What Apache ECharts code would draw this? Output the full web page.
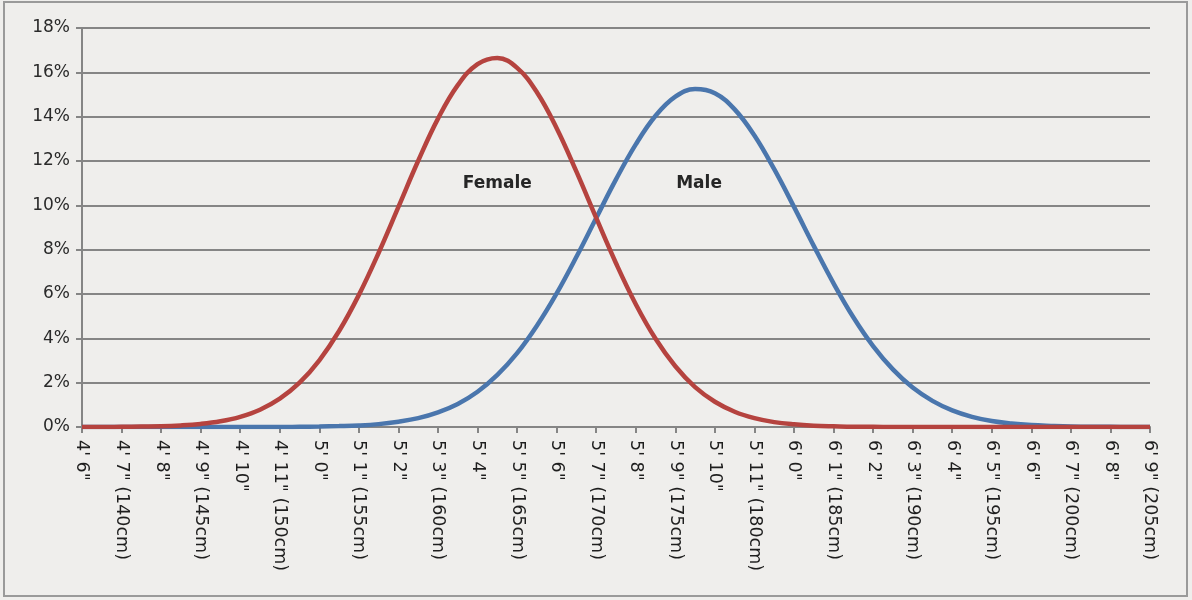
<!DOCTYPE html>
<html>
<head>
<meta charset="utf-8">
<script src="https://cdn.jsdelivr.net/npm/echarts@6/dist/echarts.min.js"></script>
<style>
  html, body { margin: 0; padding: 0; background: #efeeec; }
  #main { width: 1192px; height: 600px; }
</style>
</head>
<body>
<div id="main"></div>
<script>
// height in inches, every half inch from 4'6" to 6'9"
var heights = [54, 54.5, 55, 55.5, 56, 56.5, 57, 57.5, 58, 58.5, 59, 59.5, 60, 60.5, 61, 61.5,
    62, 62.5, 63, 63.5, 64, 64.5, 65, 65.5, 66, 66.5, 67, 67.5, 68, 68.5, 69, 69.5, 70, 70.5,
    71, 71.5, 72, 72.5, 73, 73.5, 74, 74.5, 75, 75.5, 76, 76.5, 77, 77.5, 78, 78.5, 79, 79.5,
    80, 80.5, 81];

// share of population (%)
var female = [0.00, 0.00, 0.01, 0.02, 0.03, 0.07, 0.14, 0.26, 0.46, 0.78, 1.28, 2.00, 3.01, 4.33,
    5.96, 7.86, 9.93, 12.01, 13.91, 15.42, 16.37, 16.65, 16.20, 15.10, 13.48, 11.52, 9.43, 7.39,
    5.54, 3.98, 2.74, 1.80, 1.14, 0.69, 0.40, 0.22, 0.12, 0.06, 0.03, 0.01, 0.01, 0.00, 0.00,
    0.00, 0.00, 0.00, 0.00, 0.00, 0.00, 0.00, 0.00, 0.00, 0.00, 0.00, 0.00];
var male = [0.00, 0.00, 0.00, 0.00, 0.00, 0.00, 0.00, 0.00, 0.00, 0.00, 0.00, 0.01, 0.02, 0.04,
    0.07, 0.13, 0.24, 0.40, 0.66, 1.04, 1.59, 2.35, 3.33, 4.57, 6.03, 7.68, 9.43, 11.17, 12.75,
    14.04, 14.90, 15.25, 15.06, 14.33, 13.15, 11.63, 9.93, 8.17, 6.48, 4.95, 3.65, 2.60, 1.78,
    1.18, 0.75, 0.46, 0.27, 0.16, 0.09, 0.05, 0.02, 0.01, 0.01, 0.00, 0.00];

// one label per whole inch, starting at 54 in
var tickLabels = ['4\' 6"', '4\' 7" (140cm)', '4\' 8"', '4\' 9" (145cm)', '4\' 10"', '4\' 11" (150cm)',
    '5\' 0"', '5\' 1" (155cm)', '5\' 2"', '5\' 3" (160cm)', '5\' 4"', '5\' 5" (165cm)',
    '5\' 6"', '5\' 7" (170cm)', '5\' 8"', '5\' 9" (175cm)', '5\' 10"', '5\' 11" (180cm)',
    '6\' 0"', '6\' 1" (185cm)', '6\' 2"', '6\' 3" (190cm)', '6\' 4"', '6\' 5" (195cm)',
    '6\' 6"', '6\' 7" (200cm)', '6\' 8"', '6\' 9" (205cm)'];
var firstInch = 54;

var femaleLabel = { name: 'Female', coord: [64.5, 11] };
var maleLabel = { name: 'Male', coord: [69.6, 11] };

function pairs(vals) {
    return heights.map(function (h, i) { return [h, vals[i]]; });
}

// invisible point carrying the curve name as text
function textMark(item) {
    return {
        symbol: 'circle',
        symbolSize: 2,
        silent: true,
        itemStyle: { color: 'rgba(0,0,0,0)' },
        label: {
            show: true,
            position: 'inside',
            formatter: '{b}',
            color: '#262626',
            fontFamily: 'DejaVu Sans',
            fontSize: 17,
            fontWeight: 'bold'
        },
        data: [{ name: item.name, coord: item.coord }]
    };
}

var chart = echarts.init(document.getElementById('main'));
var option = {
    backgroundColor: '#efeeec',
    animation: false,
    textStyle: { fontFamily: 'DejaVu Sans' },
    graphic: [{
        type: 'rect',
        shape: { x: 4, y: 2, width: 1183, height: 594 },
        style: { fill: 'none', stroke: '#9a9a9a', lineWidth: 2 },
        silent: true
    }],
    grid: {
        left: 82,
        right: 42,
        top: 28,
        bottom: 173
    },
    xAxis: {
        type: 'value',
        min: 54,
        max: 81,
        interval: 1,
        axisLine: { show: true, onZero: false, lineStyle: { color: '#858585', width: 2 } },
        axisTick: { show: true, length: 6, lineStyle: { color: '#858585', width: 2 } },
        splitLine: { show: false },
        axisLabel: {
            rotate: -90,
            margin: 13,
            color: '#1e1e1e',
            fontSize: 17.5,
            fontFamily: 'DejaVu Sans',
            showMinLabel: true,
            showMaxLabel: true,
            formatter: function (v) {
                return tickLabels[Math.round(v - firstInch)] || '';
            }
        }
    },
    yAxis: {
        type: 'value',
        min: 0,
        max: 18,
        interval: 2,
        axisLine: { show: true, lineStyle: { color: '#858585', width: 2 } },
        axisTick: { show: true, length: 6, lineStyle: { color: '#858585', width: 2 } },
        splitLine: { show: true, lineStyle: { color: '#858585', width: 2 } },
        axisLabel: {
            margin: 12,
            color: '#2a2a2a',
            fontSize: 17,
            fontFamily: 'DejaVu Sans',
            formatter: '{value}%'
        }
    },
    series: [
        {
            name: 'Male',
            type: 'line',
            data: pairs(male),
            smooth: 0.4,
            symbol: 'none',
            lineStyle: { color: '#4a76ad', width: 4.5 },
            itemStyle: { color: '#4a76ad' },
            markPoint: textMark(maleLabel)
        },
        {
            name: 'Female',
            type: 'line',
            data: pairs(female),
            smooth: 0.4,
            symbol: 'none',
            lineStyle: { color: '#b5433f', width: 4.5 },
            itemStyle: { color: '#b5433f' },
            markPoint: textMark(femaleLabel)
        }
    ]
};
chart.setOption(option);
</script>
</body>
</html>
